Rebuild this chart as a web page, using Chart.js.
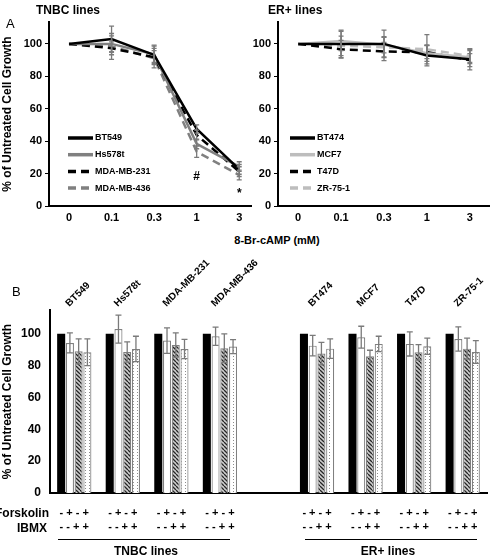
<!DOCTYPE html>
<html>
<head>
<meta charset="utf-8">
<script src="https://cdn.jsdelivr.net/npm/chart.js@4.4.1/dist/chart.umd.min.js"></script>
<style>
  body { margin: 0; background: #fff; width: 490px; height: 560px; position: relative; overflow: hidden;
         font-family: "Liberation Sans", Arial, sans-serif; }
  canvas { position: absolute; }
  .lbl { position: absolute; font-weight: bold; font-size: 12px; line-height: 14px; white-space: nowrap; color: #000; }
  .panel { position: absolute; font-size: 13px; line-height: 14px; color: #000; }
  .rule { position: absolute; height: 0; border-top: 1.5px solid #000; }
</style>
</head>
<body>
<canvas id="tnbc" width="252" height="230" style="left:0;top:0"></canvas>
<canvas id="erpos" width="240" height="230" style="left:250px;top:0"></canvas>
<canvas id="bars" width="490" height="290" style="left:0;top:250px"></canvas>

<div class="panel" style="left:6px;top:17px">A</div>
<div class="lbl" style="left:36px;top:3px">TNBC lines</div>
<div class="lbl" style="left:268px;top:3px">ER+ lines</div>
<div class="lbl" style="left:177px;width:200px;text-align:center;top:233px;font-size:11px">8-Br-cAMP (mM)</div>

<div class="panel" style="left:12px;top:285px">B</div>
<div class="lbl" style="right:441px;top:506px">Forskolin</div>
<div class="lbl" style="right:443px;top:521px">IBMX</div>
<div class="rule" style="left:58px;width:172px;top:539px"></div>
<div class="rule" style="left:305px;width:172px;top:539px"></div>
<div class="lbl" style="left:96px;width:100px;text-align:center;top:544px">TNBC lines</div>
<div class="lbl" style="left:338px;width:100px;text-align:center;top:544px">ER+ lines</div>

<script>
// Panel A: 8-Br-cAMP dose response
const DOSES = ['0', '0.1', '0.3', '1', '3'];

const BT549 = [100, 103, 93.2, 47.5, 22.6];
const BT549_ERR = [0, 8, 6, 2.5, 3];
const HS578T = [100, 100, 93.6, 38.3, 24.3];
const HS578T_ERR = [0, 5, 5, 3, 3];
const MDA231 = [100, 97.3, 91.8, 43.8, 21.2];
const MDA231_ERR = [0, 4, 4, 3, 3];
const MDA436 = [100, 98.4, 91.2, 33.5, 19.1];
const MDA436_ERR = [0, 8, 6, 3.5, 3];
const SIG_MARKS = ['', '', '', '#', '*'];

const BT474 = [100, 100, 100, 92.8, 90.5];
const BT474_ERR = [0, 8.5, 8.5, 6.4, 6.5];
const MCF7 = [100, 101.8, 99.4, 94.2, 91.8];
const MCF7_ERR = [0, 6, 5, 5, 4];
const T47D = [100, 96.7, 95.3, 94.9, 90];
const T47D_ERR = [0, 5.5, 5.6, 4, 4];
const ZR751 = [100, 98.8, 98, 96.7, 92.6];
const ZR751_ERR = [0, 6, 6, 9, 4];

// Panel B: forskolin / IBMX
const CELL_LINES = ['BT549', 'Hs578t', 'MDA-MB-231', 'MDA-MB-436', '', 'BT474', 'MCF7', 'T47D', 'ZR-75-1'];
const FORSKOLIN_SIGNS = ['-', '+', '-', '+'];
const IBMX_SIGNS = ['-', '-', '+', '+'];
const CONTROL = [100, 100, 100, 100, null, 100, 100, 100, 100];
const FORSKOLIN = [94.3, 103, 95.8, 98.5, null, 92.6, 97.9, 93.7, 96.8];
const FORSKOLIN_ERR = [6.3, 8.8, 8, 5.7, null, 6.4, 6.9, 7.6, 7.6];
const IBMX = [89, 88.6, 93, 91, null, 87.6, 85.9, 88.4, 90.7];
const IBMX_ERR = [7.8, 6.4, 7.6, 9, null, 7.1, 3.8, 4.9, 6.6];
const BOTH = [88.4, 90.5, 90.5, 92, null, 90.7, 93.7, 92.2, 88.6];
const BOTH_ERR = [8.4, 8, 6.1, 4.4, null, 6.1, 4.8, 5.1, 7.2];

const FONT = '"Liberation Sans", Arial, sans-serif';
const NARROW_FONT = '"Liberation Sans Narrow", "Liberation Sans", Arial, sans-serif';
const BLACK = '#000000';
const MID_GRAY = '#808080';
const LIGHT_GRAY = '#bdbdbd';
const ERR_GRAY = '#7a7a7a';
const DASH = [8, 5];

Chart.defaults.font.family = FONT;
Chart.defaults.font.weight = 'bold';
Chart.defaults.color = BLACK;

function makePattern(draw, w, h) {
    const c = document.createElement('canvas');
    c.width = w;
    c.height = h;
    const g = c.getContext('2d');
    draw(g, w, h);
    return g.createPattern(c, 'repeat');
}

const HATCH = makePattern((g, w, h) => {
    g.fillStyle = '#cfcfcf';
    g.fillRect(0, 0, w, h);
    g.strokeStyle = '#262626';
    g.lineWidth = 1.3;
    g.beginPath();
    for (let k = -w; k <= w; k += w) {
        g.moveTo(k, 0);
        g.lineTo(k + w, h);
    }
    g.stroke();
}, 4, 4);

const DOTS = makePattern((g, w, h) => {
    g.fillStyle = '#ffffff';
    g.fillRect(0, 0, w, h);
    g.fillStyle = '#8c8c8c';
    g.fillRect(1, 1, 1, 1);
}, 4, 3);

// draws vertical error bars with caps on top of every dataset that has `errors`
const errorBars = {
    id: 'errorBars',
    afterDatasetsDraw(chart) {
        const ctx = chart.ctx;
        const y = chart.scales.y;
        ctx.save();
        ctx.strokeStyle = ERR_GRAY;
        ctx.lineWidth = 1.3;
        chart.data.datasets.forEach((ds, i) => {
            if (!ds.errors) return;
            const meta = chart.getDatasetMeta(i);
            ds.errors.forEach((e, j) => {
                if (!e) return;
                const raw = ds.data[j];
                const v = typeof raw === 'object' ? raw.y : raw;
                const x = meta.data[j].x;
                const top = y.getPixelForValue(v + e);
                const bot = y.getPixelForValue(v - e);
                const cap = ds.capWidth || 3;
                ctx.beginPath();
                ctx.moveTo(x, top); ctx.lineTo(x, bot);
                ctx.moveTo(x - cap, top); ctx.lineTo(x + cap, top);
                ctx.moveTo(x - cap, bot); ctx.lineTo(x + cap, bot);
                ctx.stroke();
            });
        });
        ctx.restore();
    }
};

// legend drawn inside the plot, lower left
const inlineLegend = {
    id: 'inlineLegend',
    afterDraw(chart, args, opts) {
        const ctx = chart.ctx;
        ctx.save();
        ctx.font = `bold 9px ${FONT}`;
        ctx.textBaseline = 'middle';
        chart.data.datasets.forEach((ds, i) => {
            const yy = opts.top + i * 16.7;
            ctx.strokeStyle = ds.borderColor;
            ctx.lineWidth = 3.5;
            ctx.setLineDash(ds.borderDash || []);
            ctx.beginPath();
            ctx.moveTo(opts.left, yy);
            ctx.lineTo(opts.left + 25, yy);
            ctx.stroke();
            ctx.fillStyle = BLACK;
            ctx.fillText(ds.label, opts.left + 27, yy);
        });
        ctx.restore();
    }
};

const sigMarks = {
    id: 'sigMarks',
    afterDatasetsDraw(chart, args, opts) {
        if (!opts.marks) return;
        const ctx = chart.ctx;
        const { x, y } = chart.scales;
        ctx.save();
        ctx.font = `bold 12px ${FONT}`;
        ctx.textAlign = 'center';
        ctx.textBaseline = 'middle';
        ctx.fillStyle = BLACK;
        opts.marks.forEach((m, i) => {
            if (!m) return;
            const val = m === '#' ? 18 : 7.5;
            ctx.fillText(m, x.getPixelForValue(i), y.getPixelForValue(val));
        });
        ctx.restore();
    }
};

// slanted cell line names above each bar group
const groupLabels = {
    id: 'groupLabels',
    afterDraw(chart) {
        const ctx = chart.ctx;
        const x = chart.scales.x;
        const top = chart.chartArea.top;
        ctx.save();
        ctx.font = `bold 10px ${NARROW_FONT}`;
        ctx.fillStyle = BLACK;
        ctx.textAlign = 'left';
        ctx.textBaseline = 'alphabetic';
        chart.data.labels.forEach((name, i) => {
            if (!name) return;
            ctx.save();
            ctx.translate(x.getPixelForValue(i) - 5, top - 3);
            ctx.rotate(-Math.PI / 4);
            ctx.fillText(name, 0, 0);
            ctx.restore();
        });
        ctx.restore();
    }
};

function lineSet(label, values, errors, color, dashed) {
    return {
        label: label,
        data: values.map((v, i) => ({ x: i, y: v })),
        errors: errors,
        borderColor: color,
        borderWidth: 2.5,
        borderDash: dashed ? DASH : [],
        pointRadius: 0,
        tension: 0,
        capWidth: 2.5
    };
}

function doseOptions(yWidth, xMax, showTitle, legendLeft, marks) {
    return {
        responsive: false,
        animation: false,
        layout: { padding: { top: 22, left: 0, right: 0, bottom: 0 } },
        plugins: {
            legend: { display: false },
            tooltip: { enabled: false },
            inlineLegend: { left: legendLeft, top: 138 },
            sigMarks: { marks: marks }
        },
        scales: {
            x: {
                type: 'linear',
                min: -0.47,
                max: xMax,
                afterBuildTicks: s => { s.ticks = DOSES.map((d, i) => ({ value: i })); },
                afterFit: s => { s.height = 24; s.paddingLeft = 0; s.paddingRight = 0; },
                ticks: { callback: v => DOSES[v], padding: 5, maxRotation: 0, font: { size: 11, weight: 'bold' } },
                grid: { display: false, drawTicks: false },
                border: { color: BLACK, width: 2 }
            },
            y: {
                min: 0,
                max: 113.5,
                afterBuildTicks: s => { s.ticks = s.ticks.filter(t => t.value % 20 === 0 && t.value <= 100); },
                afterFit: s => { s.width = yWidth; s.paddingTop = 0; s.paddingBottom = 0; },
                ticks: { stepSize: 20, padding: 3, font: { size: 11, weight: 'bold' } },
                grid: { drawOnChartArea: false, tickLength: 4, color: BLACK, lineWidth: 1 },
                border: { color: BLACK, width: 2 },
                title: {
                    display: showTitle,
                    text: '% of Untreated Cell Growth',
                    font: { size: 12, weight: 'bold' },
                    padding: { top: 0, bottom: 0 }
                }
            }
        }
    };
}

new Chart(document.getElementById('tnbc'), {
    type: 'line',
    data: {
        datasets: [
            lineSet('BT549', BT549, BT549_ERR, BLACK, false),
            lineSet('Hs578t', HS578T, HS578T_ERR, MID_GRAY, false),
            lineSet('MDA-MB-231', MDA231, MDA231_ERR, BLACK, true),
            lineSet('MDA-MB-436', MDA436, MDA436_ERR, MID_GRAY, true)
        ]
    },
    options: doseOptions(49, 4.3, true, 68, SIG_MARKS),
    plugins: [errorBars, inlineLegend, sigMarks]
});

new Chart(document.getElementById('erpos'), {
    type: 'line',
    data: {
        datasets: [
            lineSet('BT474', BT474, BT474_ERR, BLACK, false),
            lineSet('MCF7', MCF7, MCF7_ERR, LIGHT_GRAY, false),
            lineSet('T47D', T47D, T47D_ERR, BLACK, true),
            lineSet('ZR-75-1', ZR751, ZR751_ERR, LIGHT_GRAY, true)
        ]
    },
    options: doseOptions(28, 4.47, false, 40, null),
    plugins: [errorBars, inlineLegend, sigMarks]
});

new Chart(document.getElementById('bars'), {
    type: 'bar',
    data: {
        labels: CELL_LINES,
        datasets: [
            { label: 'Control', data: CONTROL, backgroundColor: BLACK, borderWidth: 0 },
            { label: 'Forskolin', data: FORSKOLIN, errors: FORSKOLIN_ERR, backgroundColor: '#ffffff', borderColor: MID_GRAY, borderWidth: 1.2 },
            { label: 'IBMX', data: IBMX, errors: IBMX_ERR, backgroundColor: HATCH, borderColor: MID_GRAY, borderWidth: 1.2 },
            { label: 'Forskolin + IBMX', data: BOTH, errors: BOTH_ERR, backgroundColor: DOTS, borderColor: MID_GRAY, borderWidth: 1.2 }
        ]
    },
    options: {
        responsive: false,
        animation: false,
        layout: { padding: { top: 60, left: 0, right: 3, bottom: 0 } },
        datasets: { bar: { categoryPercentage: 0.72, barPercentage: 0.92 } },
        plugins: { legend: { display: false }, tooltip: { enabled: false } },
        scales: {
            x: {
                position: 'bottom',
                offset: true,
                afterFit: s => { s.height = 47; s.paddingLeft = 0; s.paddingRight = 0; },
                ticks: {
                    autoSkip: false,
                    maxRotation: 0,
                    padding: 12,
                    font: { size: 11, weight: 'bold', lineHeight: 1.36 },
                    callback: (v, i) => CELL_LINES[i] ? [FORSKOLIN_SIGNS.join(' '), IBMX_SIGNS.join(' ')] : ''
                },
                grid: { display: false, drawTicks: false },
                border: { color: BLACK, width: 2 }
            },
            y: {
                min: 0,
                max: 115,
                afterBuildTicks: s => { s.ticks = s.ticks.filter(t => t.value % 20 === 0 && t.value <= 100); },
                afterFit: s => { s.width = 50; s.paddingTop = 0; s.paddingBottom = 0; },
                ticks: { stepSize: 20, padding: 9, font: { size: 12, weight: 'bold' } },
                grid: { display: false, drawTicks: false },
                border: { color: BLACK, width: 2 },
                title: {
                    display: true,
                    text: '% of Untreated Cell Growth',
                    font: { size: 12, weight: 'bold' },
                    padding: { top: 0, bottom: 0 }
                }
            }
        }
    },
    plugins: [errorBars, groupLabels]
});
</script>
</body>
</html>
